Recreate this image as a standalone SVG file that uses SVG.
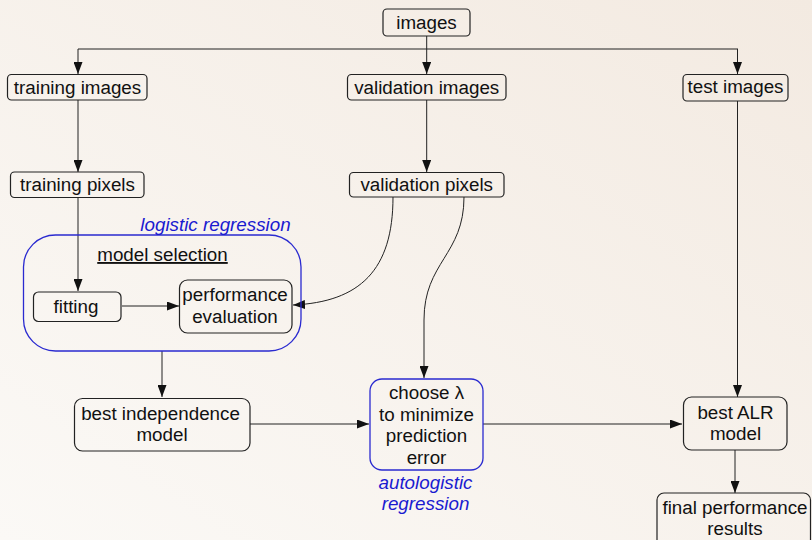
<svg xmlns="http://www.w3.org/2000/svg" width="812" height="540" viewBox="0 0 812 540">
<defs>
<linearGradient id="bg" x1="0" y1="1" x2="1" y2="0">
<stop offset="0" stop-color="#fbf9f6"/>
<stop offset="1" stop-color="#f3eae1"/>
</linearGradient>
<marker id="ah" markerWidth="12" markerHeight="9" refX="12" refY="4.5" orient="auto" markerUnits="userSpaceOnUse">
<path d="M0,0 L12,4.5 L0,9 z" fill="#111"/>
</marker>
<style>
.box{fill:none;stroke:#222;stroke-width:1.2}
.bbox{fill:none;stroke:#2a2ad0;stroke-width:1.3}
.t{font-family:"Liberation Sans",Arial,sans-serif;font-size:18.8px;fill:#111;text-anchor:middle}
.bl{font-family:"Liberation Sans",Arial,sans-serif;font-size:18.8px;fill:#1a1ad0;text-anchor:middle;font-style:italic}
.c{fill:none;stroke:#222;stroke-width:1;marker-end:url(#ah)}
.l{fill:none;stroke:#222;stroke-width:1}
</style>
</defs>
<rect width="812" height="540" fill="url(#bg)"/>

<g id="connectors">
<path class="l" d="M78,49 L738,49"/>
<path class="c" d="M426.7,36 L426.7,74"/>
<path class="c" d="M78,49 L78,74"/>
<path class="c" d="M737.5,49 L737.5,74"/>
<path class="c" d="M78,100 L78,172"/>
<path class="c" d="M426.7,100 L426.7,172"/>
<path class="c" d="M78,198 L78,291"/>
<path class="c" d="M393,197 C393,270 360,302 293,305"/>
<path class="c" d="M464,197 C464,255 424,262 424,320 L424,378"/>
<path class="c" d="M122,306 L179,306"/>
<path class="c" d="M162,351 L162,397"/>
<path class="c" d="M250,424 L369,424"/>
<path class="c" d="M483,424 L682,424"/>
<path class="c" d="M737.5,101 L737.5,397"/>
<path class="c" d="M735,450 L735,493"/>
</g>

<g id="images">
<rect class="box" x="383" y="9" width="87" height="27" rx="4"/>
<text class="t" x="426.5" y="28.5">images</text>
</g>
<g id="training-images">
<rect class="box" x="7.5" y="74.5" width="139.5" height="25.5" rx="4"/>
<text class="t" x="77.5" y="93.5">training images</text>
</g>
<g id="validation-images">
<rect class="box" x="347.5" y="74.5" width="158.5" height="25.5" rx="4"/>
<text class="t" x="426.7" y="93.5">validation images</text>
</g>
<g id="test-images">
<rect class="box" x="683" y="74.5" width="105" height="26.5" rx="4"/>
<text class="t" x="735.5" y="93">test images</text>
</g>
<g id="training-pixels">
<rect class="box" x="10.5" y="172" width="133.5" height="25.5" rx="4"/>
<text class="t" x="77.5" y="191">training pixels</text>
</g>
<g id="validation-pixels">
<rect class="box" x="349.5" y="172.5" width="154.5" height="24.5" rx="4"/>
<text class="t" x="426.7" y="191">validation pixels</text>
</g>
<g id="logistic-regression">
<rect class="bbox" x="23.5" y="235" width="277.5" height="116" rx="32"/>
<text class="bl" x="215.5" y="231">logistic regression</text>
<text class="t" x="162.5" y="261" text-decoration="underline">model selection</text>
</g>
<g id="fitting">
<rect class="box" x="33.5" y="292" width="87.5" height="29.5" rx="5"/>
<text class="t" x="76" y="312.5">fitting</text>
</g>
<g id="performance-evaluation">
<rect class="box" x="179.5" y="280" width="112.5" height="53" rx="8"/>
<text class="t" x="235" y="301">performance</text>
<text class="t" x="235" y="323">evaluation</text>
</g>
<g id="best-independence-model">
<rect class="box" x="74.5" y="398.5" width="175.5" height="52.5" rx="8"/>
<text class="t" x="160.5" y="420">best independence</text>
<text class="t" x="162" y="441">model</text>
</g>
<g id="choose-lambda">
<rect class="bbox" x="370" y="379" width="113" height="91" rx="12"/>
<text class="t" x="426.5" y="399">choose λ</text>
<text class="t" x="426.5" y="420.5">to minimize</text>
<text class="t" x="426.5" y="442">prediction</text>
<text class="t" x="426.5" y="463.5">error</text>
<text class="bl" x="425.5" y="489">autologistic</text>
<text class="bl" x="425.5" y="510">regression</text>
</g>
<g id="best-alr-model">
<rect class="box" x="683.5" y="397" width="103.5" height="53" rx="8"/>
<text class="t" x="735.5" y="418.5">best ALR</text>
<text class="t" x="735.5" y="440">model</text>
</g>
<g id="final-performance-results">
<rect class="box" x="657" y="493" width="153.5" height="54" rx="7"/>
<text class="t" x="735" y="513.5">final performance</text>
<text class="t" x="735" y="535">results</text>
</g>
</svg>
